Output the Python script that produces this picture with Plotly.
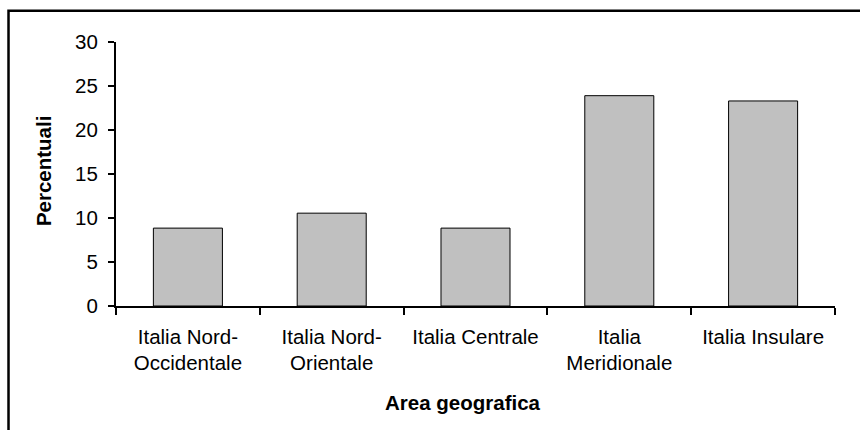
import plotly.graph_objects as go

categories = ["Italia Nord-<br>Occidentale", "Italia Nord-<br>Orientale", "Italia Centrale",
              "Italia<br>Meridionale", "Italia Insulare"]
values = [8.85, 10.55, 8.85, 23.9, 23.3]
y_ticks = [0, 5, 10, 15, 20, 25, 30]

font = "Liberation Sans, Arial, sans-serif"
FS = 20.5

fig = go.Figure(go.Bar(
    x=categories, y=values,
    marker=dict(color="#C0C0C0", line=dict(color="#000000", width=1)),
    width=0.48,
))

fig.update_layout(
    width=860, height=430,
    margin=dict(l=116, r=25, t=42, b=124, autoexpand=False),
    paper_bgcolor="white", plot_bgcolor="white",
    font=dict(family=font, size=FS, color="black"),
    showlegend=False,
    xaxis=dict(
        type="category", showline=True, linecolor="black", linewidth=2,
        ticks="outside", ticklen=7, tickwidth=2, tickcolor="black",
        tickson="boundaries", showgrid=False, ticklabelstandoff=11,
        tickfont=dict(size=FS),
    ),
    yaxis=dict(
        range=[0, 30], tickvals=y_ticks, showline=True, linecolor="black", linewidth=2,
        ticks="outside", ticklen=6, tickwidth=2, tickcolor="black",
        showgrid=False, zeroline=False, ticklabelstandoff=6,
        tickfont=dict(size=FS),
    ),
    annotations=[
        dict(text="<b>Percentuali</b>", xref="paper", yref="paper", x=-0.1015, y=0.511,
             textangle=-90, showarrow=False, xanchor="center", yanchor="middle",
             font=dict(size=FS)),
        dict(text="<b>Area geografica</b>", xref="paper", yref="paper", x=0.4826, y=-0.367,
             showarrow=False, xanchor="center", yanchor="middle", font=dict(size=FS)),
    ],
    shapes=[dict(type="rect", xref="paper", yref="paper",
                 x0=-0.1495, x1=1.2, y0=-0.6, y1=1.118,
                 line=dict(color="black", width=2.5), fillcolor="rgba(0,0,0,0)", layer="below")],
)

fig.write_html("out.html", config={"displayModeBar": False},
               post_script="document.body.style.margin='0';")
